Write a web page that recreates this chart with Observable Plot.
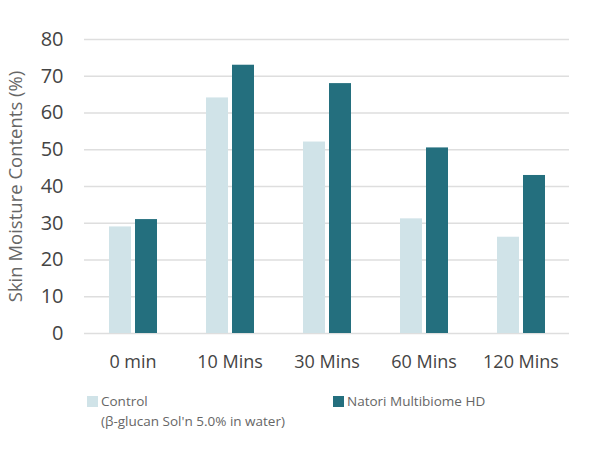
<!DOCTYPE html>
<html><head><meta charset="utf-8">
<script src="https://cdn.jsdelivr.net/npm/d3@7"></script>
<script src="https://cdn.jsdelivr.net/npm/@observablehq/plot@0.6"></script>
<style>
body{margin:0;background:#fff;font-family:"Open Sans",sans-serif;}
#wrap{position:relative;width:600px;height:467px;}
.leg{position:absolute;font-size:13.5px;color:#666;line-height:20px;font-family:"Open Sans",sans-serif;}
.sw{display:inline-block;width:11px;height:11px;margin-right:3px;vertical-align:-1px;}
</style></head><body>
<div id="wrap"><div id="chart"></div><div id="legend"></div></div>
<script>
const times = ["0 min", "10 Mins", "30 Mins", "60 Mins", "120 Mins"];
const series = ["Control", "Natori Multibiome HD"];
const controlValues = [29.0, 64.1, 52.1, 31.2, 26.2];
const natoriValues = [31.0, 73.0, 68.0, 50.5, 43.0];
const yTicks = [0, 10, 20, 30, 40, 50, 60, 70, 80];
const colors = ["#d0e3e8", "#246f7e"];
const legendLabels = ["Control\n(β-glucan Sol'n 5.0% in water)", "Natori Multibiome HD"];

const data = [];
times.forEach((t, i) => {
  data.push({time: t, series: series[0], value: controlValues[i]});
  data.push({time: t, series: series[1], value: natoriValues[i]});
});

const chart = Plot.plot({
  width: 600, height: 385,
  marginLeft: 82, marginRight: 29, marginTop: 39, marginBottom: 52,
  style: {fontFamily: "Open Sans", color: "#555"},
  fx: {domain: times, paddingInner: 0.49, paddingOuter: 0.245, label: null},
  x: {domain: series, paddingInner: 0.16, paddingOuter: 0, axis: null},
  y: {domain: [0, 80], axis: null},
  color: {domain: series, range: colors},
  marks: [
    Plot.ruleY(yTicks, {stroke: "#dedede", strokeWidth: 1.5, insetLeft: -24, insetRight: -24}),
    Plot.barY(data, {fx: "time", x: "series", y: "value", fill: "series"}),
    Plot.axisFx({anchor: "bottom", tickSize: 0, tickPadding: 22, fontSize: 18, label: null, fill: "#444"}),
    Plot.axisY({ticks: yTicks, tickSize: 0, tickPadding: 45, fontSize: 20, fill: "#444", label: null}),
    Plot.axisY({ticks: [], tickSize: 0, fontSize: 18.5, fill: "#666",
      label: "Skin Moisture Contents (%)", labelAnchor: "center", labelOffset: 100, labelArrow: "none"})
  ]
});
document.getElementById("chart").appendChild(chart);

const leg = document.getElementById("legend");
const positions = [87, 333];
series.forEach((s, i) => {
  const d = document.createElement("div");
  d.className = "leg";
  d.style.left = positions[i] + "px";
  d.style.top = "391px";
  const lines = legendLabels[i].split("\n");
  d.innerHTML = `<span class="sw" style="background:${colors[i]}"></span>${lines[0]}` +
    (lines[1] ? `<br><span style="padding-left:14px">${lines[1]}</span>` : "");
  leg.appendChild(d);
});
</script>
</body></html>
